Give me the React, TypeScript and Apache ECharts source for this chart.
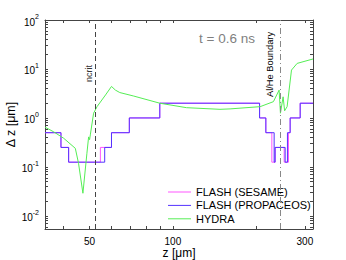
import React, { useEffect, useRef } from "react";
import * as echarts from "echarts";

const FONT = "Liberation Sans, Arial, sans-serif";

// FLASH (SESAME) step curve: z [μm] where each level starts, Δz [μm]
const sesameZ = [34.5, 39.4, 42.0, 54.7, 60.0, 69.6, 89.7, 205.8, 216.8, 227.9, 234.2, 252.5, 261.7, 265.4, 288.5, 321];
const sesameDz = [0.5, 0.25, 0.125, 0.25, 0.5, 1, 2, 1, 0.5, 0.125, 0.25, 0.125, 0.5, 1, 2, 2];
// FLASH (PROPACEOS) step curve
const propZ = [34.5, 39.4, 42.0, 56.7, 60.0, 69.6, 89.7, 205.8, 216.8, 232.3, 234.2, 254.6, 259.5, 265.4, 288.5, 321];
const propDz = [0.5, 0.25, 0.125, 0.25, 0.5, 1, 2, 1, 0.5, 0.125, 0.25, 0.125, 0.5, 1, 2, 2];
// HYDRA curve
const hydraZ = [34.5, 37.1, 40.3, 44.4, 45.6, 47.3, 48.9, 49.6, 50.0, 50.3, 51.7, 53.2, 57.1, 60.0, 62.0, 64.3, 72.2, 89.7, 112, 148, 161, 206.7, 230.9, 242.1, 244.8, 250.3, 253.5, 258.8, 268.4, 281.3, 321];
const hydraDz = [0.65, 0.52, 0.385, 0.24, 0.119, 0.029, 0.19, 0.41, 0.36, 0.45, 1.25, 1.7, 2.95, 4.4, 3.7, 3.3, 2.8, 2.0, 1.62, 1.5, 1.53, 1.7, 2.15, 3.7, 1.25, 2.7, 1.4, 1.7, 9.5, 13, 16];

const seriesNames = ["FLASH (SESAME)", "FLASH (PROPACEOS)", "HYDRA"];
const xLabelValues = [50, 100, 300];
const xTickValues = [40, 50, 60, 70, 80, 90, 100, 200, 300];
const yLabelValues = [0.01, 0.1, 1, 10, 100];
const yTickValues = [0.006, 0.007, 0.008, 0.009, 0.01, 0.02, 0.03, 0.04, 0.05, 0.06, 0.07, 0.08, 0.09, 0.1, 0.2, 0.3, 0.4, 0.5, 0.6, 0.7, 0.8, 0.9, 1, 2, 3, 4, 5, 6, 7, 8, 9, 10, 20, 30, 40, 50, 60, 70, 80, 90, 100];
const markerZ = [52.5, 244];
const markerLabels = ["ncrit", "Al/He Boundary"];
const timeLabel = "t = 0.6 ns";

const X_MIN = 34.5;
const X_MAX = 321;
const Y_MIN = 0.0054;
const Y_MAX = 100;

const zip = (xs: number[], ys: number[]) => xs.map((x, i) => [x, ys[i]]);

export default function App() {
  const ref = useRef<HTMLDivElement>(null);
  useEffect(() => {
    if (!ref.current) return;
    const chart = echarts.init(ref.current, undefined, { renderer: "svg" });
    const axisColor = "#444";
    const xCommon = {
      type: "log" as const, logBase: 10, min: X_MIN, max: X_MAX,
      axisLine: { show: true, lineStyle: { color: axisColor, width: 1 } },
      axisTick: { show: true, inside: true, length: 3, customValues: xTickValues, lineStyle: { color: axisColor } },
      splitLine: { show: false },
    };
    const yCommon = {
      type: "log" as const, logBase: 10, min: Y_MIN, max: Y_MAX,
      axisLine: { show: true, lineStyle: { color: axisColor, width: 1 } },
      axisTick: { show: true, inside: true, length: 3, customValues: yTickValues, lineStyle: { color: axisColor } },
      splitLine: { show: false },
    };
    chart.setOption({
      animation: false,
      backgroundColor: "#fff",
      grid: { left: 45, right: 33, top: 20, bottom: 31, containLabel: false, outerBoundsMode: "none" },
      legend: {
        orient: "vertical", left: 168, top: 186.5, itemWidth: 23, itemHeight: 1, itemGap: 2.4, padding: 0, icon: "rect",
        textStyle: { fontSize: 11, color: "#000", fontFamily: FONT },
        data: seriesNames,
      },
      xAxis: [
        { ...xCommon, position: "bottom",
          axisLabel: { customValues: xLabelValues, color: "#000", fontSize: 10, fontFamily: FONT, margin: 7 },
          name: "z [μm]", nameLocation: "middle", nameGap: 17.5, nameMoveOverlap: false,
          nameTextStyle: { fontSize: 12, color: "#000", fontFamily: FONT } },
        { ...xCommon, position: "top", axisLabel: { show: false } },
      ],
      yAxis: [
        { ...yCommon, position: "left",
          axisLabel: { customValues: yLabelValues, margin: 6,
            formatter: (v: number) => `{b|10}{s|${Math.round(Math.log10(v))}}`,
            rich: {
              b: { fontSize: 10, fontFamily: FONT, color: "#000", verticalAlign: "bottom", lineHeight: 14 },
              s: { fontSize: 7, fontFamily: FONT, color: "#000", verticalAlign: "top", lineHeight: 14 },
            } },
          name: "Δ z [μm]", nameLocation: "middle", nameGap: 28, nameMoveOverlap: false,
          nameTextStyle: { fontSize: 12.5, color: "#000", fontFamily: FONT } },
        { ...yCommon, position: "right", axisLabel: { show: false } },
      ],
      series: [
        { name: seriesNames[0], type: "line", step: "end", symbol: "none", data: zip(sesameZ, sesameDz),
          lineStyle: { color: "#ff55ff", width: 1 }, itemStyle: { color: "#ff55ff" } },
        { name: seriesNames[1], type: "line", step: "end", symbol: "none", data: zip(propZ, propDz),
          lineStyle: { color: "#5533ff", width: 1 }, itemStyle: { color: "#5533ff" } },
        { name: seriesNames[2], type: "line", symbol: "none", data: zip(hydraZ, hydraDz),
          lineStyle: { color: "#55ee55", width: 1 }, itemStyle: { color: "#55ee55" },
          markLine: { silent: true, symbol: "none", label: { show: false },
            data: [
              { xAxis: markerZ[0], lineStyle: { color: "#444", type: [5, 3], width: 1 } },
              { xAxis: markerZ[1], lineStyle: { color: "#888", type: [6, 3, 1, 3], width: 1 } },
            ] } },
      ],
    });
    const px0 = chart.convertToPixel({ xAxisIndex: 0 }, markerZ[0]) as number;
    const px1 = chart.convertToPixel({ xAxisIndex: 0 }, markerZ[1]) as number;
    chart.setOption({
      graphic: [
        { type: "text", x: px0 - 6.5, y: 73.5, rotation: Math.PI / 2,
          style: { text: markerLabels[0], fontSize: 9, fill: "#333", fontFamily: FONT, align: "center", verticalAlign: "middle" } },
        { type: "text", x: px1 - 10, y: 64.5, rotation: Math.PI / 2,
          style: { text: markerLabels[1], fontSize: 9.3, fill: "#000", fontFamily: FONT, align: "center", verticalAlign: "middle" } },
        { type: "text", x: 227, y: 38,
          style: { text: timeLabel, fontSize: 13.5, fill: "#7f7f7f", fontFamily: FONT, align: "center", verticalAlign: "middle" } },
      ],
    });
    return () => chart.dispose();
  }, []);
  return <div ref={ref} style={{ position: "fixed", left: 0, top: 0, width: 346, height: 260 }} />;
}
